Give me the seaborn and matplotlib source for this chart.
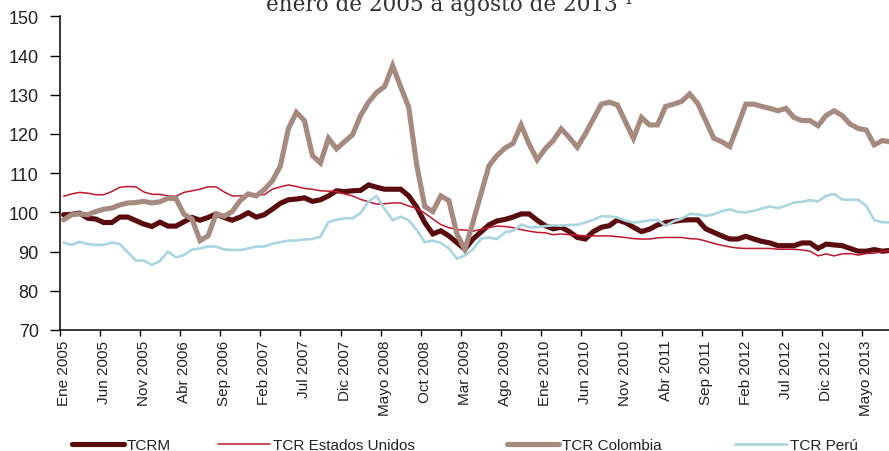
import numpy as np
import pandas as pd
import matplotlib
matplotlib.use("Agg")
import matplotlib.pyplot as plt
import seaborn as sns
from matplotlib.lines import Line2D

# ==========================================
# datos (índices mensuales, ene 2005 - ago 2013)
# ==========================================
TCRM = [
    99.4, 99.5, 99.8, 98.5, 98.3, 97.4, 97.4, 98.8, 98.8, 97.9, 97.0, 96.4, 97.5,
    96.5, 96.5, 97.6, 98.7, 98.0, 98.7, 99.6, 98.7, 98.0, 98.8, 99.9, 98.8, 99.4,
    100.8, 102.3, 103.2, 103.4, 103.7, 102.8, 103.2, 104.2, 105.5, 105.3, 105.5, 105.6,
    107.0, 106.4, 105.9, 105.9, 105.9, 104.2, 101.3, 97.4, 94.5, 95.3, 94.0, 92.3, 90.6,
    93.2, 95.0, 96.8, 97.8, 98.2, 98.8, 99.6, 99.6, 98.0, 96.6, 95.8, 96.2, 95.1,
    93.6, 93.2, 95.1, 96.2, 96.6, 98.1, 97.4, 96.2, 95.1, 95.7, 96.8, 97.4,
    97.7, 98.0, 98.1, 98.1, 95.8, 94.9, 94.0, 93.2, 93.2, 93.9, 93.2, 92.6, 92.2, 91.5,
    91.5, 91.5, 92.2, 92.2, 90.8, 91.9, 91.7, 91.5, 90.8, 90.1, 90.1, 90.5, 90.1, 90.3,
]
TCR_EEUU = [
    104.1, 104.7, 105.1, 104.9, 104.5, 104.5, 105.3, 106.4, 106.6, 106.5, 105.2, 104.6, 104.6,
    104.2, 104.1, 105.1, 105.5, 105.9, 106.5, 106.5, 105.2, 104.2, 104.2, 104.2, 104.5, 104.5,
    105.9, 106.5, 107.0, 106.6, 106.1, 105.9, 105.5, 105.4, 105.3, 104.7, 104.2, 103.3,
    102.7, 102.1, 102.2, 102.4, 102.4, 101.6, 101.0, 99.8, 98.3, 96.9, 96.1, 95.6, 95.5,
    95.2, 95.7, 96.1, 96.5, 96.4, 96.1, 95.6, 95.2, 94.9, 94.8, 94.3, 94.5, 94.3,
    94.2, 94.0, 94.0, 94.0, 94.0, 93.8, 93.6, 93.3, 93.2, 93.2, 93.5, 93.6,
    93.6, 93.6, 93.3, 93.2, 92.7, 92.1, 91.6, 91.2, 90.9, 90.8, 90.8, 90.8, 90.8, 90.6,
    90.6, 90.6, 90.4, 90.1, 88.9, 89.4, 88.9, 89.4, 89.5, 89.1, 89.5, 89.6, 90.0, 90.2,
]
TCR_COLOMBIA = [
    98.1, 99.4, 99.6, 99.4, 100.2, 100.8, 101.1, 101.9, 102.4, 102.5, 102.8, 102.4, 102.7,
    103.6, 103.5, 99.5, 98.3, 92.8, 94.0, 99.6, 99.0, 100.2, 103.0, 104.7, 104.2, 105.8,
    108.0, 111.8, 121.3, 125.5, 123.4, 114.5, 112.6, 118.9, 116.2, 118.0, 119.8, 124.7,
    128.1, 130.6, 132.1, 137.4, 132.0, 126.8, 112.0, 101.5, 100.2, 104.2, 103.0, 94.5, 90.5,
    97.5, 104.7, 111.9, 114.5, 116.4, 117.6, 122.3, 117.4, 113.4, 116.2, 118.3, 121.3, 119.1,
    116.6, 120.0, 123.8, 127.6, 128.1, 127.4, 123.1, 118.9, 124.2, 122.3, 122.3, 127.0,
    127.6, 128.3, 130.2, 127.8, 123.4, 118.9, 118.0, 116.8, 122.1, 127.6, 127.6, 127.0, 126.5,
    125.9, 126.5, 124.2, 123.4, 123.4, 122.1, 124.7, 125.9, 124.7, 122.5, 121.4, 121.0,
    117.2, 118.3, 118.0,
]
TCR_PERU = [
    92.3, 91.7, 92.5, 91.9, 91.7, 91.7, 92.3, 91.9, 89.8, 87.7, 87.7, 86.6, 87.6,
    90.0, 88.5, 89.1, 90.5, 90.8, 91.3, 91.3, 90.5, 90.4, 90.4, 90.8, 91.3, 91.3,
    92.0, 92.4, 92.8, 92.8, 93.1, 93.2, 93.8, 97.5, 98.1, 98.5, 98.5, 99.8,
    102.8, 104.2, 100.9, 98.0, 98.9, 98.0, 95.5, 92.4, 92.8, 92.2, 90.8, 88.2, 89.0,
    90.6, 93.3, 93.6, 93.2, 94.9, 95.3, 96.9, 96.2, 96.2, 96.5, 96.7, 96.6, 96.8,
    96.8, 97.4, 98.1, 99.0, 99.0, 98.7, 97.9, 97.4, 97.6, 98.0, 98.1, 96.6,
    97.7, 98.4, 99.6, 99.5, 99.1, 99.5, 100.3, 100.8, 100.1, 100.0, 100.4, 101.0, 101.5,
    101.1, 101.7, 102.5, 102.7, 103.1, 102.8, 104.2, 104.7, 103.3, 103.2, 103.2, 101.7,
    98.0, 97.5, 97.4,
]

TICK_LABELS = [
    "Ene 2005", "Jun 2005", "Nov 2005", "Abr 2006", "Sep 2006", "Feb 2007", "Jul 2007",
    "Dic 2007", "Mayo 2008", "Oct 2008", "Mar 2009", "Ago 2009", "Ene 2010", "Jun 2010",
    "Nov 2010", "Abr 2011", "Sep 2011", "Feb 2012", "Jul 2012", "Dic 2012", "Mayo 2013",
]
Y_TICKS = [70, 80, 90, 100, 110, 120, 130, 140, 150]
TITLE = "enero de 2005 a agosto de 2013 \u00b9"

SERIES = [
    ("TCRM", TCRM, "#5a0b0d", 3.7),
    ("TCR Estados Unidos", TCR_EEUU, "#c0172f", 1.1),
    ("TCR Colombia", TCR_COLOMBIA, "#a78a7f", 3.7),
    ("TCR Perú", TCR_PERU, "#a9d6e1", 1.9),
]
LEGEND_X = [72, 218, 507, 735]

# ==========================================
# gráfico
# ==========================================
sns.set_theme(style="white")
plt.rcParams['font.family'] = ['Liberation Sans', 'DejaVu Sans']

W, H = 889, 452
fig = plt.figure(figsize=(W / 100, H / 100), dpi=100)
ax = fig.add_axes([59.6 / W, 121 / H, 104 * 8.026 / W, 313.7 / H])

months = np.arange(len(TCRM))
for name, values, color, lw in SERIES:
    df = pd.DataFrame({"mes": months, "valor": values})
    sns.lineplot(data=df, x="mes", y="valor", color=color, linewidth=lw, ax=ax,
                 solid_joinstyle="miter")

ax.set_xlim(-0.5, 103.5)
ax.set_ylim(70, 150)
ax.set_xlabel("")
ax.set_ylabel("")

for s in ["top", "right"]:
    ax.spines[s].set_visible(False)
for s in ["left", "bottom"]:
    ax.spines[s].set_color("black")
    ax.spines[s].set_linewidth(1.1)

ax.set_yticks(Y_TICKS)
ax.tick_params(axis="y", direction="out", length=7, width=1.0, color="black",
               labelsize=13, pad=8, labelcolor="#222222", left=True)

ax.set_xticks(np.arange(0, len(TCRM), 5))
ax.set_xticklabels(TICK_LABELS, rotation=90, va="top", ha="center")
ax.tick_params(axis="x", which="major", length=0, labelsize=11, pad=7, labelcolor="#222222")
ax.set_xticks(np.arange(-0.5, len(TCRM), 5), minor=True)
ax.tick_params(axis="x", which="minor", direction="out", length=4, width=1.0,
               color="black", bottom=True)

fig.text(449.5 / W, 1 - 11.5 / H, TITLE, ha="center", va="baseline",
         fontsize=15.5, color="#333333", family=["DejaVu Serif"])

for (name, values, color, lw), x0 in zip(SERIES, LEGEND_X):
    h = Line2D([], [], color=color, linewidth=lw)
    fig.legend([h], [name], loc="center left", bbox_to_anchor=(x0 / W, 6 / H),
               frameon=False, fontsize=11, handlelength=3.4, handletextpad=0.2,
               borderaxespad=0, borderpad=0, labelcolor="#222222")

fig.savefig("out.png", dpi=100)
